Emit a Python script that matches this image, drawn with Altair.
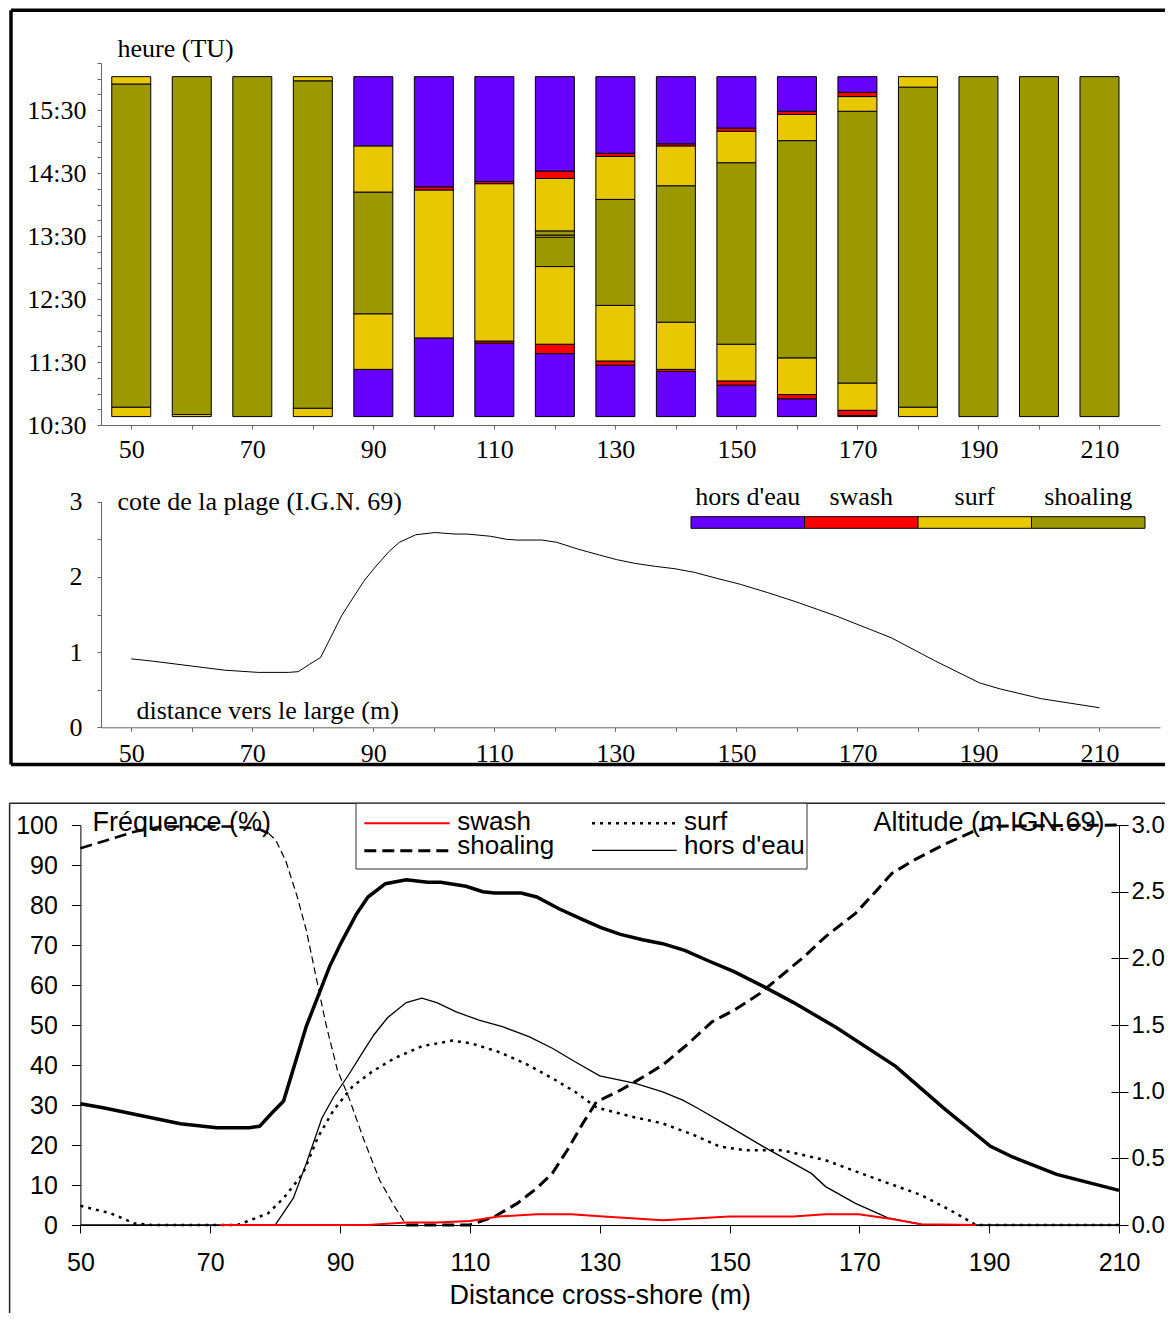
import altair as alt
import pandas as pd

SERIF = "Liberation Serif"
SANS = "Liberation Sans"

# ---------------- data: top panel (state of each station through time) ----------------
states = ["hors d'eau", "swash", "surf", "shoaling"]
state_colors = ["#6600FF", "#FF0000", "#E8C800", "#9C9900"]

stations = [50, 60, 70, 80, 90, 100, 110, 120, 130, 140, 150, 160, 170, 180, 190, 200, 210]
record_start = "10:38"
# each bar: (state, end time) from bottom to top
b50 = [("surf", "10:47"), ("shoaling", "15:55"), ("surf", "16:02")]
b60 = [("surf", "10:40"), ("shoaling", "16:02")]
b70 = [("shoaling", "16:02")]
b80 = [("surf", "10:46"), ("shoaling", "15:58"), ("surf", "16:02")]
b90 = [("hors d'eau", "11:23"), ("surf", "12:16"), ("shoaling", "14:12"), ("surf", "14:56"), ("hors d'eau", "16:02")]
b100 = [("hors d'eau", "11:53"), ("surf", "14:14"), ("swash", "14:17"), ("hors d'eau", "16:02")]
b110 = [("hors d'eau", "11:48"), ("swash", "11:50"), ("surf", "14:20"), ("swash", "14:22"), ("hors d'eau", "16:02")]
b120 = [("hors d'eau", "11:38"), ("swash", "11:47"), ("surf", "13:01"), ("shoaling", "13:29"), ("surf", "13:31"),
        ("shoaling", "13:35"), ("surf", "14:25"), ("swash", "14:32"), ("hors d'eau", "16:02")]
b130 = [("hors d'eau", "11:27"), ("swash", "11:31"), ("surf", "12:24"), ("shoaling", "14:05"), ("surf", "14:46"),
        ("swash", "14:49"), ("hors d'eau", "16:02")]
b140 = [("hors d'eau", "11:21"), ("swash", "11:23"), ("surf", "12:08"), ("shoaling", "14:18"), ("surf", "14:56"),
        ("swash", "14:58"), ("hors d'eau", "16:02")]
b150 = [("hors d'eau", "11:08"), ("swash", "11:12"), ("surf", "11:47"), ("shoaling", "14:40"), ("surf", "15:10"),
        ("swash", "15:13"), ("hors d'eau", "16:02")]
b160 = [("hors d'eau", "10:55"), ("swash", "10:59"), ("surf", "11:34"), ("shoaling", "15:01"), ("surf", "15:26"),
        ("swash", "15:29"), ("hors d'eau", "16:02")]
b170 = [("hors d'eau", "10:39"), ("swash", "10:44"), ("surf", "11:10"), ("shoaling", "15:29"), ("surf", "15:43"),
        ("swash", "15:47"), ("hors d'eau", "16:02")]
b180 = [("surf", "10:47"), ("shoaling", "15:52"), ("surf", "16:02")]
b190 = [("shoaling", "16:02")]
b200 = [("shoaling", "16:02")]
b210 = [("shoaling", "16:02")]
station_bars = [b50, b60, b70, b80, b90, b100, b110, b120, b130, b140, b150, b160, b170, b180, b190, b200, b210]

# ---------------- data: beach profile (m IGN 69) ----------------
prof_x = [50, 53.5, 65.4, 71, 76, 77.6, 79.5, 81.3, 84.8, 88.4, 90.2, 92.5, 94.3, 97, 100.2, 103.5, 105.5,
          109.4, 112, 113.8, 117.9, 120.3, 123.8, 127.4, 130.2, 133.2, 136.6, 139.7, 143.1, 146.8, 150.7,
          155.2, 159.8, 166.5, 175.6, 182.9, 190.2, 193.6, 200.4, 210]
prof_z = [0.91, 0.88, 0.76, 0.73, 0.73, 0.74, 0.84, 0.93, 1.49, 1.94, 2.12, 2.33, 2.46, 2.56, 2.59, 2.57, 2.57,
          2.54, 2.50, 2.49, 2.49, 2.46, 2.37, 2.29, 2.23, 2.18, 2.14, 2.11, 2.06, 1.98, 1.90,
          1.79, 1.67, 1.48, 1.19, 0.88, 0.59, 0.51, 0.38, 0.26]

# ---------------- data: bottom panel, frequency (%) ----------------
hors_x = [50, 80, 82.8, 84.8, 87.2, 89, 91.3, 93.7, 95.2, 97.3, 100.2, 102.6, 104.9, 107.9, 111.4, 115, 119.1,
          122.7, 126.2, 130, 135.5, 139.7, 142.8, 145.1, 150, 155.2, 162.6, 164.8, 169.4, 174.4, 180, 210]
hors_y = [0, 0, 6.7, 15.4, 26.7, 32, 37.5, 43.7, 47.5, 51.8, 55.6, 56.7, 55.6, 53.3, 51.2, 49.6, 47.1,
          44.2, 40.8, 37.3, 35.4, 33.3, 31.2, 29.2, 24.6, 19.6, 12.9, 9.6, 5.4, 1.8, 0, 0]

surf_x = [50, 54.7, 58.3, 61, 74.2, 78.9, 81.3, 84.3, 86.6, 89, 91.9, 94.9, 98.4, 102.6, 107.3, 110.2, 114.4,
          118.5, 122.7, 126.2, 129.5, 134.9, 139.7, 144.5, 148.5, 152.4, 158.1, 164.8, 171.6, 179.5, 184, 188, 210]
surf_y = [4.8, 2.9, 0.4, 0, 0, 2.9, 6.7, 12.9, 22, 28.7, 34.6, 38.3, 41.7, 44.7, 46.1, 45.4, 43.3,
          40.4, 36.7, 33.3, 29.4, 27.1, 25.4, 22.5, 19.6, 18.7, 18.7, 16.2, 12.1, 7.5, 3.7, 0, 0]

shoal_x = [50, 54.1, 58.3, 62.4, 73, 77.2, 79, 80.1, 81.6, 83.4, 84.8, 86.3, 87.8, 89.6, 91.3, 93.7, 96.1, 98.4,
           100.2, 110, 113.8, 117.3, 120.3, 122.7, 125, 127.4, 129.5, 133.2, 137.2, 139.7, 143.4, 147.3, 150.7,
           154.7, 158.1, 161.5, 164.8, 169.4, 172.7, 175, 178.4, 182.9, 187.4, 190.8, 210]
shoal_y = [94.2, 96.2, 98.3, 99.6, 99.6, 99.2, 97.9, 96.2, 91.2, 82.1, 73.7, 62.1, 50.4, 38.7, 32.1, 21.2, 11.2, 4.6,
           0, 0, 2.1, 5.4, 9.2, 12.9, 18.7, 25.4, 30.8, 33.7, 37.5, 40, 45, 50.8, 53.7,
           57.9, 62.5, 67.1, 72.1, 77.9, 83.7, 87.9, 91.2, 95, 98.3, 99.7, 100]

swash_x = [71.5, 94.3, 100.2, 104.9, 110, 114.4, 120.3, 125.6, 130, 139.7, 150, 159.8, 164.8, 169.9, 175, 179.5, 188]
swash_y = [0, 0, 0.6, 0.6, 1, 2.1, 2.7, 2.7, 2.2, 1.2, 2.1, 2.1, 2.7, 2.7, 1.5, 0.2, 0]

# ---------------- tables ----------------
def hours(s):
    h, m = s.split(":")
    return int(h) + int(m) / 60.0

rows = []
for d, segs in zip(stations, station_bars):
    t0 = record_start
    for cat, t1 in segs:
        rows.append({"dist": d, "state": cat, "t0": hours(t0), "t1": hours(t1)})
        t0 = t1
bars_df = pd.DataFrame(rows)
prof_df = pd.DataFrame({"x": prof_x, "z": prof_z})
hors_df = pd.DataFrame({"x": hors_x, "y": hors_y})
surf_df = pd.DataFrame({"x": surf_x, "y": surf_y})
swash_df = pd.DataFrame({"x": swash_x, "y": swash_y})
sh = pd.DataFrame({"x": shoal_x, "y": shoal_y})
parts = []
for seg, lo, hi in [("a", 0, 79), ("b", 79, 100.2), ("c", 100.2, 999)]:
    p = sh[(sh.x >= lo) & (sh.x <= hi)].copy()
    p["seg"] = seg
    parts.append(p)
shoal_df = pd.concat(parts, ignore_index=True)
leg_df = pd.DataFrame({"state": states})
one = pd.DataFrame({"k": [0]})

# ---------------- layout (pixels inside the single view; page = view + 8) ----------------
W, H = 1157, 1305


def ax(**kw):
    base = dict(grid=False, labelOverlap=False, labelFlush=False, labelBound=False,
                titleFontWeight="normal", labelColor="black", titleColor="black")
    base.update(kw)
    return alt.Axis(**base)


top_axis_style = dict(domainColor="#666", tickColor="#666", tickSize=4,
                      labelFont=SERIF, labelFontSize=26, titleFont=SERIF, titleFontSize=26)
bot_axis_style = dict(domainColor="black", tickColor="black",
                      labelFont=SANS, labelFontSize=25, titleFont=SANS, titleFontSize=27)

x_top = alt.Scale(domain=[45, 220], range=[93, 1152], padding=0)
y_time = alt.Scale(domain=[10.5, 16.25], range=[417, 55], padding=0)
y_prof = alt.Scale(domain=[0, 3], range=[719.3, 493.7])
x_bot = alt.Scale(domain=[50, 210], range=[72.4, 1111])
y_pct = alt.Scale(domain=[0, 100], range=[1217, 817])
y_alt = alt.Scale(domain=[0, 3], range=[1217, 817])
color_scale = alt.Scale(domain=states, range=state_colors)

station_ticks = list(range(50, 211, 10))
time_ticks = [10.5 + 0.25 * i for i in range(24)]
alt_ticks = [0, 0.5, 1, 1.5, 2, 2.5, 3]

bars = alt.Chart(bars_df).mark_bar(size=39, stroke="black", strokeWidth=1).encode(
    x=alt.X("dist:Q", scale=x_top, axis=ax(
        orient="bottom", offset=417 - H, values=station_ticks,
        labelExpr="datum.value % 20 == 10 ? datum.label : ''", title="", labelPadding=7,
        **top_axis_style)),
    y=alt.Y("t0:Q", scale=y_time, axis=ax(
        orient="left", offset=-93, values=time_ticks,
        labelExpr="datum.value % 1 == 0.5 ? floor(datum.value) + ':30' : ''", labelPadding=11,
        title="heure (TU)", titleAngle=0, titleAlign="left", titleBaseline="middle",
        titleX=16, titleY=40, **top_axis_style)),
    y2="t1:Q",
    color=alt.Color("state:N", scale=color_scale, legend=None),
)

profile_top = alt.Chart(prof_df).mark_line(color="black", strokeWidth=1).encode(
    x=alt.X("x:Q", scale=x_top, axis=ax(
        orient="bottom", offset=719.3 - H, values=station_ticks,
        labelExpr="datum.value % 20 == 10 ? datum.label : ''", labelPadding=9,
        title="distance vers le large (m)", titleAngle=0, titleAlign="left", titleBaseline="middle",
        titleX=128, titleY=-17.3, **top_axis_style)),
    y=alt.Y("z:Q", scale=y_prof, axis=ax(
        orient="left", offset=-93, values=alt_ticks, format=".0f",
        labelExpr="datum.value % 1 == 0 ? datum.label : ''", labelPadding=15,
        title="cote de la plage (I.G.N. 69)", titleAngle=0, titleAlign="left", titleBaseline="middle",
        titleX=16, titleY=493, **top_axis_style)),
)

leg_x = alt.X("state:N", sort=states, axis=None,
              scale=alt.Scale(domain=states, range=[683, 1137], paddingInner=0, paddingOuter=0))
leg_rect = alt.Chart(leg_df).mark_rect(stroke="black", strokeWidth=1).encode(
    x=leg_x, y=alt.value(508.7), y2=alt.value(520.3),
    color=alt.Color("state:N", scale=color_scale, legend=None))
leg_text = alt.Chart(leg_df).mark_text(font=SERIF, fontSize=26, baseline="middle", color="black").encode(
    x=leg_x, y=alt.value(489), text="state:N")

# frames (cut by the page edge like the reference)
frame_top = [
    alt.Chart(one).mark_rule(color="black", strokeWidth=3.5).encode(x=alt.value(3), x2=alt.value(1180), y=alt.value(2.3)),
    alt.Chart(one).mark_rule(color="black", strokeWidth=3.5).encode(x=alt.value(3), y=alt.value(2.3), y2=alt.value(756.5)),
    alt.Chart(one).mark_rule(color="black", strokeWidth=3.5).encode(x=alt.value(3), x2=alt.value(1180), y=alt.value(756.5)),
]
frame_bot = [
    alt.Chart(one).mark_rule(color="#222", strokeWidth=1.5).encode(x=alt.value(1.6), x2=alt.value(1180), y=alt.value(795.3)),
    alt.Chart(one).mark_rule(color="#222", strokeWidth=1.5).encode(x=alt.value(1.6), y=alt.value(795.3), y2=alt.value(1330)),
]

# bottom panel
profile_bot = alt.Chart(prof_df).mark_line(color="black", strokeWidth=3.5).encode(
    x=alt.X("x:Q", scale=x_bot, axis=ax(
        orient="bottom", offset=1217 - H, values=list(range(50, 211, 20)), tickSize=8, labelPadding=17,
        title="Distance cross-shore (m)", titleBaseline="alphabetic", titleY=78.3, **bot_axis_style)),
    y=alt.Y("z:Q", scale=y_alt, axis=ax(
        orient="right", offset=1111 - W, values=alt_ticks, format=".1f",
        tickSize=9, labelPadding=3,
        title="Altitude (m IGN.69)", titleAngle=0, titleAlign="right", titleBaseline="alphabetic",
        titleX=-15, titleY=822.5, **{**bot_axis_style, "labelFontSize": 24})),
)
# inner half of the crossing ticks of the altitude axis
alt_inner_ticks = alt.Chart(prof_df).mark_line(strokeOpacity=0).encode(
    x=alt.X("x:Q", scale=x_bot, axis=None),
    y=alt.Y("z:Q", scale=y_alt, axis=ax(
        orient="left", offset=-1111, values=alt_ticks, labels=False, domain=False,
        tickSize=8, tickColor="black", title="")),
)
hors = alt.Chart(hors_df).mark_line(color="black", strokeWidth=1.3).encode(
    x=alt.X("x:Q", scale=x_bot, axis=None),
    y=alt.Y("y:Q", scale=y_pct, axis=ax(
        orient="left", offset=-72.4, values=list(range(0, 101, 10)), tickSize=9, labelPadding=14,
        title="Fréquence (%)", titleAngle=0, titleAlign="left", titleBaseline="alphabetic",
        titleX=11.6, titleY=822.5, **bot_axis_style)),
)
surf = alt.Chart(surf_df).mark_line(color="black", strokeWidth=2.5, strokeDash=[3, 5]).encode(
    x=alt.X("x:Q", scale=x_bot, axis=None), y=alt.Y("y:Q", scale=y_pct, axis=None))
shoal = alt.Chart(shoal_df).mark_line(color="black").encode(
    x=alt.X("x:Q", scale=x_bot, axis=None), y=alt.Y("y:Q", scale=y_pct, axis=None),
    strokeDash=alt.StrokeDash("seg:N", legend=None,
                              scale=alt.Scale(type="ordinal", domain=["a", "b", "c"],
                                              range=[[12, 6], [7, 4], [12, 6]])),
    strokeWidth=alt.StrokeWidth("seg:N", legend=None,
                                scale=alt.Scale(type="ordinal", domain=["a", "b", "c"], range=[2.5, 1.2, 3])),
)
swash = alt.Chart(swash_df).mark_line(color="#FF0000", strokeWidth=2).encode(
    x=alt.X("x:Q", scale=x_bot, axis=None), y=alt.Y("y:Q", scale=y_pct, axis=None))

# bottom legend
legend_bot = [
    alt.Chart(one).mark_rect(fill="white", stroke="#333", strokeWidth=1).encode(
        x=alt.value(348), x2=alt.value(799), y=alt.value(795.3), y2=alt.value(861)),
    alt.Chart(one).mark_rule(color="#FF0000", strokeWidth=2).encode(
        x=alt.value(356.3), x2=alt.value(441.7), y=alt.value(815.3)),
    alt.Chart(one).mark_rule(color="black", strokeWidth=3, strokeDash=[12, 6]).encode(
        x=alt.value(356.3), x2=alt.value(441.7), y=alt.value(842.7)),
    alt.Chart(one).mark_rule(color="black", strokeWidth=2.5, strokeDash=[3, 5]).encode(
        x=alt.value(584), x2=alt.value(668.7), y=alt.value(815.3)),
    alt.Chart(one).mark_rule(color="black", strokeWidth=1.3).encode(
        x=alt.value(584), x2=alt.value(668.7), y=alt.value(842.3)),
]
for label, lx, ly in [("swash", 449.3, 822), ("shoaling", 449.3, 845.5),
                      ("surf", 676, 822), ("hors d'eau", 676, 845.5)]:
    legend_bot.append(
        alt.Chart(one).mark_text(text=label, font=SANS, fontSize=26, align="left",
                                 baseline="alphabetic", color="black").encode(
            x=alt.value(lx), y=alt.value(ly)))

chart = alt.layer(
    *frame_top, *frame_bot,
    bars, profile_top, leg_rect, leg_text,
    profile_bot, alt_inner_ticks, hors, surf, shoal, swash,
    *legend_bot,
).resolve_scale(x="independent", y="independent").properties(
    width=W, height=H, padding=0, autosize=alt.AutoSizeParams(type="none")
).configure_view(stroke=None)

chart.save("out.html", embed_options={"renderer": "svg", "actions": False})
